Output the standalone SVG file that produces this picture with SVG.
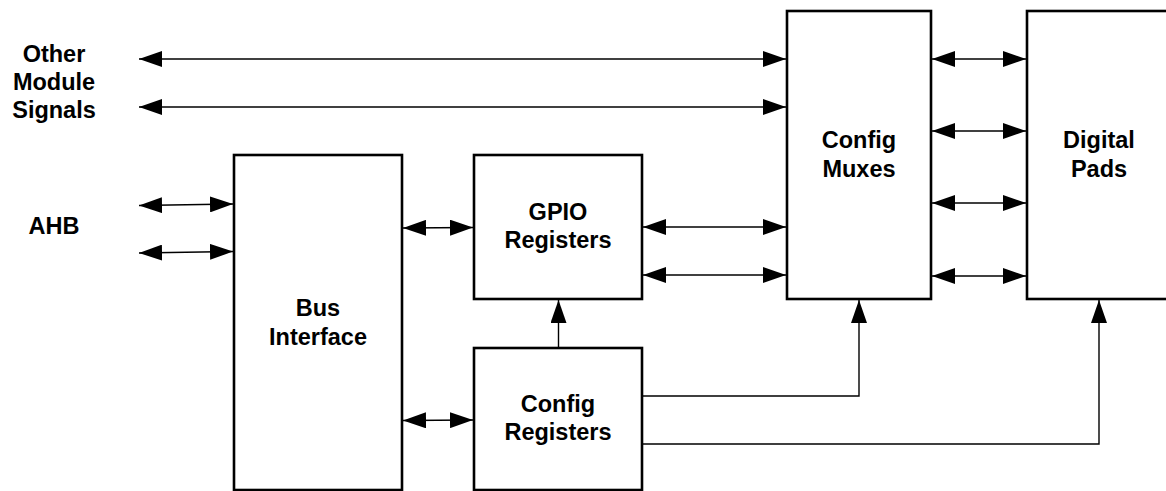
<svg xmlns="http://www.w3.org/2000/svg" width="1166" height="491" viewBox="0 0 1166 491">
<style>
.box{fill:#fff;stroke:#000;stroke-width:2.6}
.ln{fill:none;stroke:#000;stroke-width:1.4}
.t{font-family:"Liberation Sans",Arial,sans-serif;font-weight:bold;font-size:23.5px;fill:#000;text-anchor:middle}
</style>
<defs>
<marker id="ah" viewBox="0 0 23 16" refX="23" refY="8" markerWidth="23" markerHeight="16" markerUnits="userSpaceOnUse" orient="auto-start-reverse">
<path d="M0,0 L23,8 L0,16 Z" fill="#000"/>
</marker>
</defs>
<rect width="1166" height="491" fill="#fff"/>
<g id="bus-interface">
<rect class="box" x="234" y="155" width="168" height="335"/>
<text class="t" x="318" y="316">Bus</text>
<text class="t" x="318" y="345">Interface</text>
</g>
<g id="gpio-registers">
<rect class="box" x="474" y="155" width="168" height="144"/>
<text class="t" x="558" y="220">GPIO</text>
<text class="t" x="558" y="248">Registers</text>
</g>
<g id="config-registers">
<rect class="box" x="474" y="348" width="168" height="142"/>
<text class="t" x="558" y="412">Config</text>
<text class="t" x="558" y="440">Registers</text>
</g>
<g id="config-muxes">
<rect class="box" x="787" y="11" width="144" height="288"/>
<text class="t" x="859" y="148">Config</text>
<text class="t" x="859" y="177">Muxes</text>
</g>
<g id="digital-pads">
<rect class="box" x="1027" y="11" width="150" height="288"/>
<text class="t" x="1099" y="148">Digital</text>
<text class="t" x="1099" y="177">Pads</text>
</g>
<g id="labels">
<text class="t" x="54" y="62">Other</text>
<text class="t" x="54" y="90">Module</text>
<text class="t" x="54" y="118">Signals</text>
<text class="t" x="54" y="234">AHB</text>
</g>
<g id="connectors">
<line class="ln" x1="139" y1="59" x2="786" y2="59" marker-start="url(#ah)" marker-end="url(#ah)"/>
<line class="ln" x1="139" y1="107" x2="786" y2="107" marker-start="url(#ah)" marker-end="url(#ah)"/>
<line class="ln" x1="139" y1="205.5" x2="233" y2="204" marker-start="url(#ah)" marker-end="url(#ah)"/>
<line class="ln" x1="139" y1="253" x2="233" y2="251.5" marker-start="url(#ah)" marker-end="url(#ah)"/>
<line class="ln" x1="403" y1="228" x2="473" y2="227.5" marker-start="url(#ah)" marker-end="url(#ah)"/>
<line class="ln" x1="403" y1="420.5" x2="473" y2="420" marker-start="url(#ah)" marker-end="url(#ah)"/>
<line class="ln" x1="643" y1="227" x2="786" y2="227" marker-start="url(#ah)" marker-end="url(#ah)"/>
<line class="ln" x1="643" y1="275" x2="786" y2="275" marker-start="url(#ah)" marker-end="url(#ah)"/>
<line class="ln" x1="932" y1="59" x2="1026" y2="59" marker-start="url(#ah)" marker-end="url(#ah)"/>
<line class="ln" x1="932" y1="131" x2="1026" y2="131" marker-start="url(#ah)" marker-end="url(#ah)"/>
<line class="ln" x1="932" y1="203" x2="1026" y2="203" marker-start="url(#ah)" marker-end="url(#ah)"/>
<line class="ln" x1="932" y1="276" x2="1026" y2="276" marker-start="url(#ah)" marker-end="url(#ah)"/>
<line class="ln" x1="558.5" y1="347" x2="558.5" y2="300" marker-end="url(#ah)"/>
<polyline class="ln" points="643,396 859,396 859,300" marker-end="url(#ah)"/>
<polyline class="ln" points="643,444 1099,444 1099,300" marker-end="url(#ah)"/>
</g>
</svg>
